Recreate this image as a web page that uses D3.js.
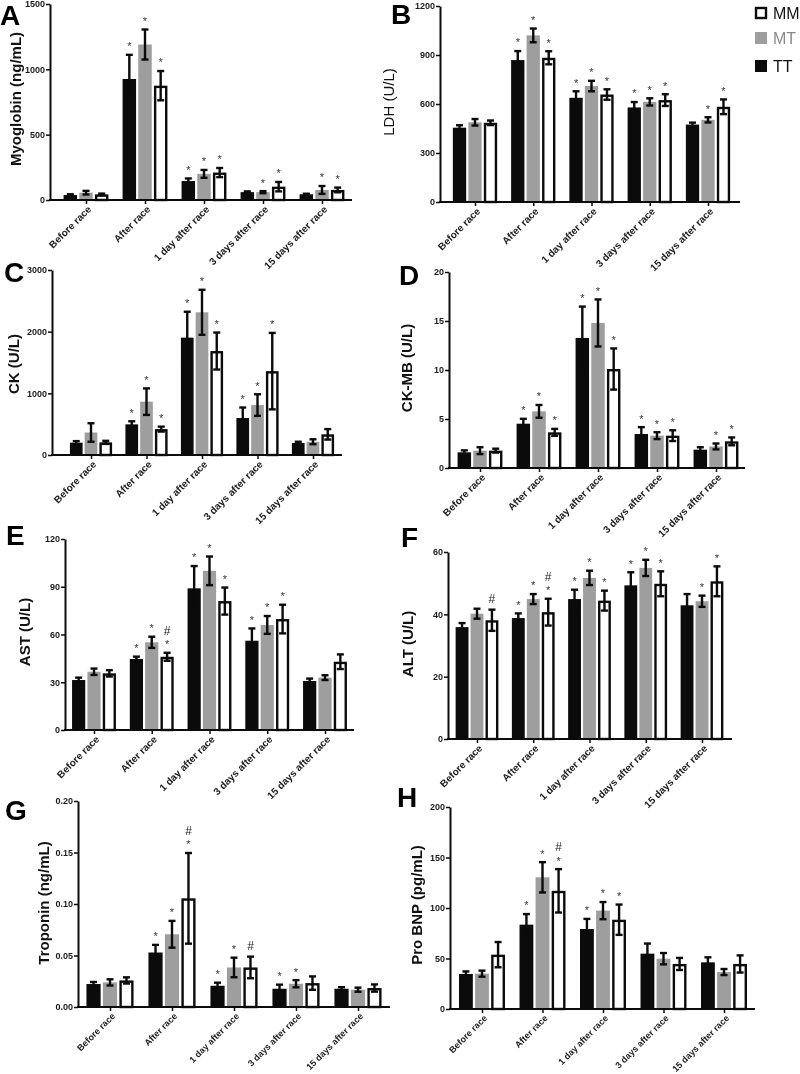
<!DOCTYPE html>
<html><head><meta charset="utf-8">
<script src="https://cdn.jsdelivr.net/npm/d3@7/dist/d3.min.js"></script>
<style>html,body{margin:0;padding:0;background:#fff}svg{display:block}
.sig{opacity:0.99;will-change:transform}</style>
</head><body><svg id="c" width="800" height="1074"></svg>
<script>
const categories = ["Before race","After race","1 day after race","3 days after race","15 days after race"];
const series = ["TT","MT","MM"];
const legendOrder = ["MM","MT","TT"];

// mean rows: TT, MT, MM
const myoglobinMean = [[38,926,145,60,44],[56,1190,200,60,77],[43,875,210,102,77]];
const myoglobinErr  = [[6,185,20,6,4],[14,115,30,8,30],[6,112,35,36,18]];
const myoglobinSig  = [["","*","*","",""],["","*","*","*","*"],["","*","*","*","*"]];
const myoglobinTicks = [0,500,1000,1500];

const ldhMean = [[455,869,638,579,474],[488,1020,710,613,503],[485,883,658,624,583]];
const ldhErr  = [[15,55,40,33,12],[20,42,32,22,16],[14,40,32,36,45]];
const ldhSig  = [["","*","*","*",""],["","*","*","*","*"],["","*","*","*","*"]];
const ldhTicks = [0,300,600,900,1200];

const ckMean = [[200,497,1903,600,195],[365,865,2314,810,215],[205,420,1686,1360,335]];
const ckErr  = [[25,50,420,170,20],[150,215,365,175,40],[25,40,300,620,85]];
const ckSig  = [["","*","*","*",""],["","*","*","*",""],["","*","*","*",""]];
const ckTicks = [0,1000,2000,3000];

const ckmbMean = [[1.6,4.52,13.27,3.47,1.87],[1.77,5.78,14.8,3.3,2.2],[1.77,3.64,10.1,3.3,2.72]];
const ckmbErr  = [[0.2,0.5,3.2,0.7,0.25],[0.35,0.65,2.4,0.35,0.3],[0.2,0.35,2.1,0.55,0.4]];
const ckmbSig  = [["","*","*","*",""],["","*","*","*","*"],["","*","*","*","*"]];
const ckmbTicks = [0,5,10,15,20];

const astMean = [[31.4,44.6,89,56.1,30.8],[36.6,55.1,100,66,32.9],[35.6,46,81,69.7,42.9]];
const astErr  = [[1.5,1.5,14,7.7,1.5],[2,3.5,9,5.6,1.5],[2,2.5,8.5,9,4.6]];
const astSig  = [["","*","*","*",""],["","*","*","*",""],["","*#","*","*",""]];
const astTicks = [0,30,60,90,120];

const altMean = [[35.9,38.8,44.9,49.3,42.9],[40.2,44.9,51.7,54.9,44.2],[38.1,40.7,44.4,49.8,50.6]];
const altErr  = [[1.3,1.5,3,4.2,3.6],[1.6,1.6,2.3,2.6,1.8],[3.4,4.3,3.2,4,4.8]];
const altSig  = [["","*","*","*",""],["","*","*","*","*"],["#","*#","*","*","*"]];
const altTicks = [0,20,40,60];

const tropMean = [[0.0223,0.0529,0.0206,0.0177,0.0177],[0.0239,0.0706,0.0384,0.0226,0.0168],[0.0258,0.1055,0.0384,0.0232,0.0184]];
const tropErr  = [[0.002,0.0074,0.003,0.004,0.0015],[0.003,0.013,0.0095,0.0035,0.002],[0.003,0.044,0.0105,0.0065,0.0035]];
const tropSig  = [["","*","*","*",""],["","*","*","*",""],["","*#","#","",""]];
const tropTicks = [0,0.05,0.10,0.15,0.20];

const bnpMean = [[34.7,83.5,79.2,54.8,46.2],[35,130.4,97.4,49.8,36.6],[53.8,117,88.4,44.6,44.6]];
const bnpErr  = [[2.5,10.5,10,10,5],[3,15,8.5,5.6,3],[12.5,21.5,15,6,8.5]];
const bnpSig  = [["","*","*","",""],["","*","*","",""],["","*#","*","",""]];
const bnpTicks = [0,50,100,150,200];

const colors = {TT:"#0b0b0b", MT:"#9e9e9e", MM:"#ffffff"};
const FONT = "'Liberation Sans', Arial, Helvetica, sans-serif";

const panels = [
 {letter:"A", lx:0, ly:25, label:"Myoglobin (ng/mL)", labX:15, labY:99, bold:true, xfs:10,
  mean:myoglobinMean, err:myoglobinErr, sig:myoglobinSig, ticks:myoglobinTicks, fmt:d3.format("d"),
  x0:50, x1:352, yTop:4, y0:200, offL:36, offR:30},
 {letter:"B", lx:391, ly:24, label:"LDH (U/L)", labX:388, labY:102, bold:false, xfs:10,
  mean:ldhMean, err:ldhErr, sig:ldhSig, ticks:ldhTicks, fmt:d3.format("d"),
  x0:440, x1:740, yTop:6, y0:202, offL:35, offR:32},
 {letter:"C", lx:4, ly:282, label:"CK (U/L)", labX:13, labY:364, bold:true, xfs:10,
  mean:ckMean, err:ckErr, sig:ckSig, ticks:ckTicks, fmt:d3.format("d"),
  x0:52, x1:342, yTop:270, y0:455, offL:39, offR:29},
 {letter:"D", lx:399, ly:285, label:"CK-MB (U/L)", labX:406, labY:368, bold:true, xfs:10,
  mean:ckmbMean, err:ckmbErr, sig:ckmbSig, ticks:ckmbTicks, fmt:d3.format("d"),
  x0:449, x1:745, yTop:272, y0:468, offL:31, offR:29},
 {letter:"E", lx:6, ly:545, label:"AST (U/L)", labX:24, labY:632, bold:true, xfs:10,
  mean:astMean, err:astErr, sig:astSig, ticks:astTicks, fmt:d3.format("d"),
  x0:65, x1:354, yTop:539, y0:730, offL:29, offR:29},
 {letter:"F", lx:401, ly:547, label:"ALT (U/L)", labX:407, labY:644, bold:true, xfs:10,
  mean:altMean, err:altErr, sig:altSig, ticks:altTicks, fmt:d3.format("d"),
  x0:448, x1:732, yTop:552, y0:739, offL:29, offR:30},
 {letter:"G", lx:5, ly:820, label:"Troponin (ng/mL)", labX:43, labY:903, bold:true, xfs:9,
  mean:tropMean, err:tropErr, sig:tropSig, ticks:tropTicks, fmt:d3.format(".2f"),
  x0:78, x1:390, yTop:801, y0:1007, offL:32, offR:32},
 {letter:"H", lx:397, ly:807, label:"Pro BNP (pg/mL)", labX:416, labY:905, bold:true, xfs:9,
  mean:bnpMean, err:bnpErr, sig:bnpSig, ticks:bnpTicks, fmt:d3.format("d"),
  x0:450, x1:755, yTop:807, y0:1009, offL:32, offR:31}
];

const svg = d3.select("#c");
svg.append("rect").attr("width",800).attr("height",1074).attr("fill","#fff");

panels.forEach(p => {
  const g = svg.append("g");
  const y = d3.scaleLinear().domain([0, d3.max(p.ticks)]).range([p.y0, p.yTop]);
  const xc = d3.scalePoint().domain(categories).range([p.x0 + p.offL, p.x1 - p.offR]);
  const step = (p.x1 - p.offR - p.x0 - p.offL) / (categories.length - 1);
  const gw = step * 0.76;
  const xs = d3.scaleBand().domain(series).range([-gw/2, gw/2]).paddingInner(0.14);
  const bw = xs.bandwidth();

  // bars
  series.forEach((s, si) => {
    categories.forEach((c, ci) => {
      const v = p.mean[si][ci];
      const bx = xc(c) + xs(s);
      if (s === "MM") {
        const sw = 2.4;
        g.append("rect").attr("x", bx + sw/2).attr("y", y(v) + sw/2)
          .attr("width", bw - sw).attr("height", Math.max(0, y(0) - y(v) - sw/2))
          .attr("fill", "#fff").attr("stroke", "#0b0b0b").attr("stroke-width", sw);
      } else {
        g.append("rect").attr("x", bx).attr("y", y(v))
          .attr("width", bw).attr("height", y(0) - y(v)).attr("fill", colors[s]);
      }
    });
  });

  // error bars + significance marks
  const sg = g.append("g").attr("class", "sig");
  series.forEach((s, si) => {
    categories.forEach((c, ci) => {
      const v = p.mean[si][ci], e = p.err[si][ci];
      const cx = xc(c) + xs(s) + bw/2;
      const yt = y(v + e), yb = y(Math.max(0, v - e));
      const eg = g.append("g").attr("stroke", "#0b0b0b").attr("stroke-width", 2.4);
      eg.append("line").attr("x1", cx).attr("x2", cx).attr("y1", yt).attr("y2", yb);
      eg.append("line").attr("x1", cx - 3.5).attr("x2", cx + 3.5).attr("y1", yt).attr("y2", yt);
      eg.append("line").attr("x1", cx - 3.5).attr("x2", cx + 3.5).attr("y1", yb).attr("y2", yb);
      const m = p.sig[si][ci];
      let cy = yt - 11;
      if (m.includes("*")) {
        sg.append("text").attr("x", cx).attr("y", cy + 6.4).attr("text-anchor", "middle")
          .attr("font-family", FONT).attr("font-size", 11).attr("fill", "#333").text("*");
        cy -= 11;
      }
      if (m.includes("#")) {
        sg.append("text").attr("x", cx).attr("y", cy).attr("dy", "0.36em").attr("text-anchor", "middle")
          .attr("font-family", FONT).attr("font-size", 12).attr("fill", "#222").text("#");
      }
    });
  });

  // y axis
  const ya = g.append("g").attr("transform", `translate(${p.x0},0)`)
    .call(d3.axisLeft(y).tickValues(p.ticks).tickFormat(p.fmt).tickSize(4).tickSizeOuter(0));
  ya.select(".domain").attr("stroke", "#0b0b0b").attr("stroke-width", 2);
  ya.selectAll(".tick line").attr("stroke", "#0b0b0b").attr("stroke-width", 1.5);
  ya.selectAll(".tick text").attr("font-family", FONT).attr("font-size", 9)
    .attr("font-weight", "bold").attr("fill", "#1a1a1a").attr("x", -5);

  // x axis
  const xa = g.append("g").attr("transform", `translate(0,${p.y0})`)
    .call(d3.axisBottom(xc).tickSize(4).tickSizeOuter(0));
  xa.select(".domain").remove();
  g.append("line").attr("x1", p.x0 - 1).attr("x2", p.x1).attr("y1", p.y0).attr("y2", p.y0)
    .attr("stroke", "#0b0b0b").attr("stroke-width", 2);
  xa.selectAll(".tick line").attr("stroke", "#0b0b0b").attr("stroke-width", 1.5);
  xa.selectAll(".tick text").attr("font-family", FONT).attr("font-size", p.xfs)
    .attr("font-weight", "bold").attr("fill", "#1a1a1a")
    .attr("x", 0).attr("y", 0).attr("dy", "0.35em")
    .attr("text-anchor", "end").attr("transform", "translate(3,7.5) rotate(-45)");

  // y label
  g.append("text").attr("transform", `translate(${p.labX},${p.labY}) rotate(-90)`)
    .attr("text-anchor", "middle").attr("dominant-baseline", "central")
    .attr("font-family", FONT).attr("font-size", 15)
    .attr("font-weight", p.bold ? "bold" : "normal").attr("fill", "#111").text(p.label);

  // panel letter
  g.append("text").attr("x", p.lx).attr("y", p.ly).attr("font-family", FONT)
    .attr("font-size", 28).attr("font-weight", "bold").attr("fill", "#000").text(p.letter);
});

// legend
const lg = svg.append("g");
const legY = {MM:7, MT:32, TT:60};
legendOrder.forEach(s => {
  if (s === "MM") {
    lg.append("rect").attr("x", 756).attr("y", legY[s] + 1).attr("width", 10).attr("height", 10)
      .attr("fill", "#fff").attr("stroke", "#0b0b0b").attr("stroke-width", 2.4);
  } else {
    lg.append("rect").attr("x", 755).attr("y", legY[s]).attr("width", 12).attr("height", 12)
      .attr("fill", colors[s]);
  }
  lg.append("text").attr("x", 773).attr("y", legY[s] + 12).attr("font-family", FONT)
    .attr("font-size", 16).attr("fill", s === "MT" ? "#8a8a8a" : "#111").text(s);
});
</script></body></html>
